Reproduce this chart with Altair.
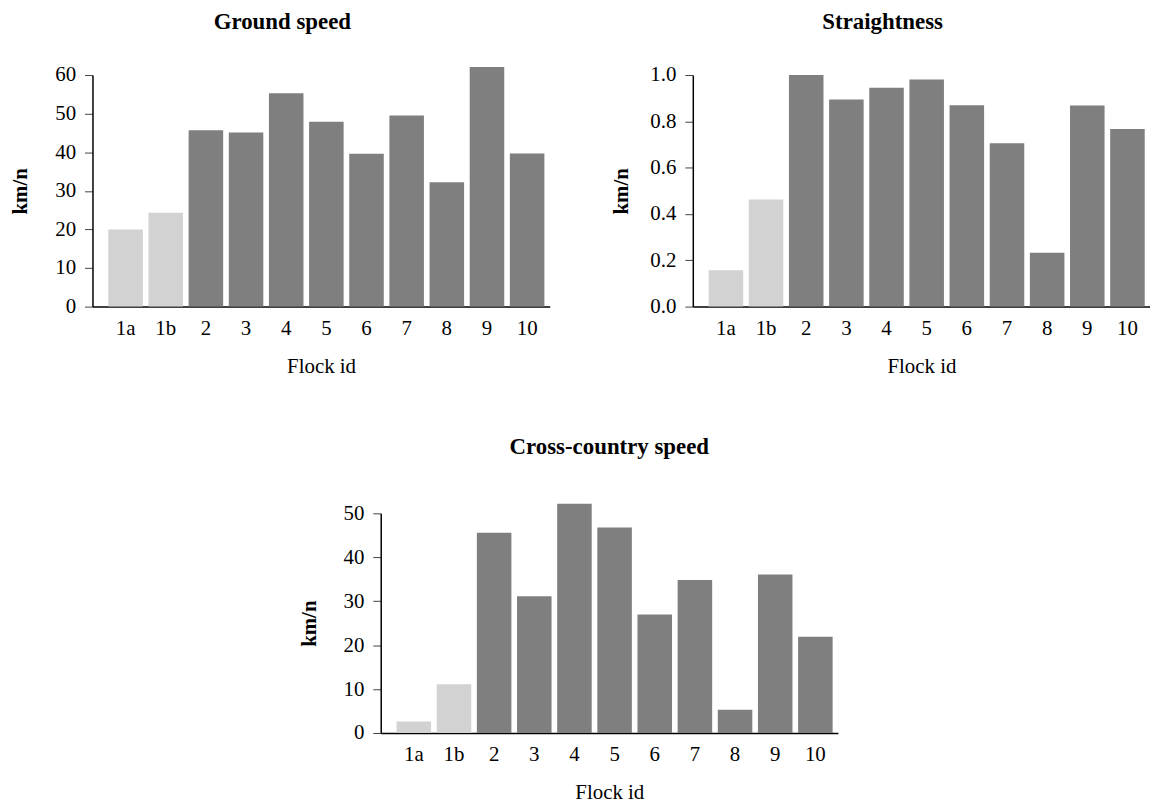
import altair as alt
import pandas as pd

flocks = ["1a", "1b", "2", "3", "4", "5", "6", "7", "8", "9", "10"]
group = ["light", "light", "dark", "dark", "dark", "dark", "dark", "dark", "dark", "dark", "dark"]
ground_speed = [20.0, 24.3, 45.7, 45.1, 55.3, 47.9, 39.6, 49.5, 32.2, 62.1, 39.7]
straightness = [0.157, 0.463, 1.0, 0.894, 0.945, 0.981, 0.869, 0.705, 0.233, 0.868, 0.767]
cross_country = [2.6, 11.1, 45.6, 31.1, 52.2, 46.8, 27.0, 34.8, 5.3, 36.1, 21.9]

FONT = "Liberation Serif"
W = 460


def panel(values, title, ymax, ystep, fmt, h, title_offset, title_dx):
    df = pd.DataFrame({"flock": flocks, "value": values, "group": group})
    return (
        alt.Chart(df)
        .mark_bar()
        .encode(
            x=alt.X(
                "flock:N",
                sort=flocks,
                scale=alt.Scale(paddingInner=0.14, paddingOuter=0.263, align=0.75),
                axis=alt.Axis(
                    title="Flock id",
                    labelAngle=0,
                    ticks=False,
                    labelPadding=11,
                    titlePadding=17,
                    titleFontWeight="normal",
                    domainColor="black",
                    domainWidth=1.5,
                ),
            ),
            y=alt.Y(
                "value:Q",
                scale=alt.Scale(domain=[0, ymax], nice=False, zero=True),
                axis=alt.Axis(
                    title="km/n",
                    values=[round(i * ystep, 4) for i in range(int(round(ymax / ystep)) + 1)],
                    format=fmt,
                    grid=False,
                    tickSize=8,
                    tickColor="#444444",
                    labelPadding=9,
                    titleX=-72,
                    titleY=h / 2,
                    titleAngle=270,
                    titleAlign="center",
                    titleBaseline="middle",
                    titleFontWeight="bold",
                    domainColor="black",
                    domainWidth=1.5,
                ),
            ),
            color=alt.Color(
                "group:N",
                scale=alt.Scale(domain=["light", "dark"], range=["#d2d2d2", "#7f7f7f"]),
                legend=None,
            ),
        )
        .properties(
            width=W,
            height=h,
            title=alt.TitleParams(
                title, font=FONT, fontSize=23, fontWeight="bold", anchor="middle",
                frame="group", offset=title_offset, dx=title_dx, color="black",
            ),
        )
    )


p1 = panel(ground_speed, "Ground speed", 60, 10, "d", 233, 30, -39)
p2 = panel(straightness, "Straightness", 1.0, 0.2, ".1f", 233, 30, -39)
p3 = panel(cross_country, "Cross-country speed", 50, 10, "d", 221, 44, 0)

spacer = (
    alt.Chart(pd.DataFrame({"a": [0]}))
    .mark_text(text="")
    .encode(x=alt.value(0), y=alt.value(0))
    .properties(width=290, height=221)
)

top = alt.hconcat(p1, p2, spacing=144, bounds="flush")
bottom = alt.hconcat(spacer, p3, spacing=0, bounds="flush")

chart = (
    alt.vconcat(top, bottom, spacing=441, bounds="flush")
    .properties(padding={"left": 2, "top": 1, "right": 0, "bottom": 0}, background="white")
    .configure_view(stroke=None)
    .configure_axis(
        labelFont=FONT,
        titleFont=FONT,
        labelFontSize=21,
        titleFontSize=21,
        labelColor="black",
        titleColor="black",
    )
)

chart.save("out.html", embed_options={"renderer": "svg", "actions": False})
